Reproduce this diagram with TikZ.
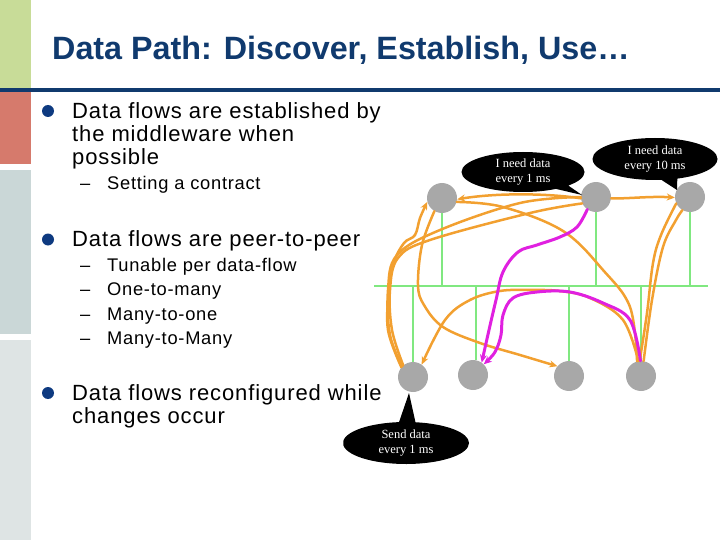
\documentclass[tikz,border=0pt]{standalone}
\usepackage{fontspec}
\setmainfont{Liberation Sans}
\newfontfamily\bodyfont[LetterSpace=4]{Liberation Sans}
\newfontfamily\calloutfont{Liberation Serif}
\usetikzlibrary{arrows.meta,shapes.callouts}
\definecolor{navy}{RGB}{16,58,110}
\definecolor{bulletblue}{RGB}{14,58,128}
\definecolor{sgreen}{RGB}{200,220,152}
\definecolor{ssalmon}{RGB}{214,122,108}
\definecolor{sblue}{RGB}{202,215,215}
\definecolor{sgrey}{RGB}{222,228,228}
\definecolor{nodegray}{RGB}{168,168,168}
\definecolor{busgreen}{RGB}{128,232,128}
\definecolor{flowor}{RGB}{242,160,48}
\definecolor{flowmag}{RGB}{224,32,224}
\begin{document}
\begin{tikzpicture}[x=1pt,y=-1pt,
  body/.style={anchor=base west, inner sep=0, font=\bodyfont\fontsize{22}{24}\selectfont},
  sub/.style={anchor=base west, inner sep=0, font=\bodyfont\fontsize{18.3}{21}\selectfont},
  dev/.style={circle, fill=nodegray, minimum size=30pt, inner sep=0},
  bus/.style={draw=busgreen, line width=2.5pt},
  flow/.style={draw=flowor, line width=2.5pt, line cap=round},
  flowm/.style={draw=flowmag, line width=3pt, line cap=round},
  tipo/.style={-{Stealth[length=8pt,width=7pt]}},
  bubble/.style={ellipse callout, fill=black, text=white, align=center, inner sep=0,
    font=\calloutfont\fontsize{12.5}{15}\selectfont}
]
\useasboundingbox (0,0) rectangle (720,540);
% sidebar
\fill[sgreen] (0,0) rectangle (31,89);
\fill[ssalmon] (0,92) rectangle (31,164);
\fill[sblue] (0,170) rectangle (31,334);
\fill[sgrey] (0,340) rectangle (31,540);
\fill[navy] (0,88.5) rectangle (720,92);
% title
\node[anchor=base west, inner sep=0, text=navy, font=\bfseries\fontsize{32.3}{34}\selectfont] (title) at (52,60) {Data Path: Discover, Establish, Use…};
% bullets
\fill[bulletblue] (48,111) circle (6);
\fill[bulletblue] (48,239.5) circle (6);
\fill[bulletblue] (48,393) circle (6);
\node[body] (t1a) at (72,118.3) {Data flows are established by};
\node[body] (t1b) at (72,141.7) {the middleware when};
\node[body] (t1c) at (72,164.8) {possible};
\node[sub] (d1) at (80,189.5) {–};
\node[sub] (s1) at (107,189.5) {Setting a contract};
\node[body] (t2) at (72,246.7) {Data flows are peer-to-peer};
\node[sub] (d2) at (80,271.7) {–};
\node[sub] (s2) at (107,271.7) {Tunable per data-flow};
\node[sub] (d3) at (80,295.7) {–};
\node[sub] (s3) at (107,295.7) {One-to-many};
\node[sub] (d4) at (80,320) {–};
\node[sub] (s4) at (107,320) {Many-to-one};
\node[sub] (d5) at (80,344) {–};
\node[sub] (s5) at (107,344) {Many-to-Many};
\node[body] (t3a) at (72,400) {Data flows reconfigured while};
\node[body] (t3b) at (72,423.3) {changes occur};
% devices
\node[dev] (A) at (442,198) {};
\node[dev] (B) at (596,197) {};
\node[dev] (C) at (690,197) {};
\node[dev] (n1) at (413,377) {};
\node[dev] (n2) at (473,375) {};
\node[dev] (n3) at (569,376) {};
\node[dev] (n4) at (641,376) {};
% bus
\coordinate (busL) at (374,286);
\coordinate (busR) at (708,286);
\draw[bus] (busL) -- (busR);
\draw[bus] (A.south) -- (A.south |- busL);
\draw[bus] (B.south) -- (B.south |- busL);
\draw[bus] (C.south) -- (C.south |- busL);
\draw[bus] (n1.north |- busL) -- (n1.north);
\draw[bus] (n2.north -| 476,0) -- (476,286);
\draw[bus] (n3.north |- busL) -- (n3.north);
\draw[bus] (n4.north |- busL) -- (n4.north);
% orange flows
\draw[flow,tipo] (B.185) .. controls (545,193) and (495,193) .. (A.-5);
\draw[flow] plot[smooth,tension=0.6] coordinates {(A.-15) (503,207) (563,231) (603,270) (630,307) (n4.105)};
\draw[flow] plot[smooth,tension=0.6] coordinates {(B.205) (530,213) (430,240) (398,258) (390,290) (392,330) (n1.130)};
\draw[flow] plot[smooth,tension=0.6] coordinates {(B.180) (520,203) (440,230) (397,255) (388,290) (390,335) (n1.135)};
\draw[flow,tipo] plot[smooth,tension=0.6] coordinates {(n1.140) (388,330) (389,290) (394,262) (404,243) (415,235) (420,218) (A.195)};
\draw[flow,tipo] plot[smooth,tension=0.6] coordinates {(A.240) (422,245) (418,285) (424,305) (443,327) (480,343) (520,355) (n3.140)};
\draw[flow,tipo] plot[smooth,tension=0.6] coordinates {(n4.100) (623,320) (590,298) (560,291) (530,290) (500,291) (470,300) (445,320) (n1.55)};
\draw[flow,tipo] (B.-5) .. controls (625,199) and (650,196) .. (C.182);
\draw[flow] plot[smooth,tension=0.6] coordinates {(n4.95) (647,313) (653,263) (661,235) (C.205)};
\draw[flow] plot[smooth,tension=0.6] coordinates {(n4.80) (652,300) (663,247) (676,220) (C.240)};
% magenta flows
\draw[flowm,tipo] plot[smooth,tension=0.6] coordinates {(n4.92) (630,320) (603,303) (570,292) (537,292) (513,298) (503,315) (501,335) (495,352) (n2.45)};
\draw[flowm,tipo] plot[smooth,tension=0.6] coordinates {(B.235) (577,227) (560,237) (537,245) (518,252) (503,272) (496,300) (489,330) (n2.55)};
% callouts
\node[bubble, minimum width=123pt, minimum height=40pt, callout absolute pointer={(582,195)}] (cb1) at (523,172) {I need data\\every 1 ms};
\node[bubble, minimum width=125pt, minimum height=42pt, callout absolute pointer={(677,190)}] (cb2) at (655,159) {I need data\\every 10 ms};
\node[bubble, minimum width=126pt, minimum height=42pt, callout absolute pointer={(409,393)}] (cb3) at (406,443) {Send data\\every 1 ms};
\end{tikzpicture}
\end{document}
